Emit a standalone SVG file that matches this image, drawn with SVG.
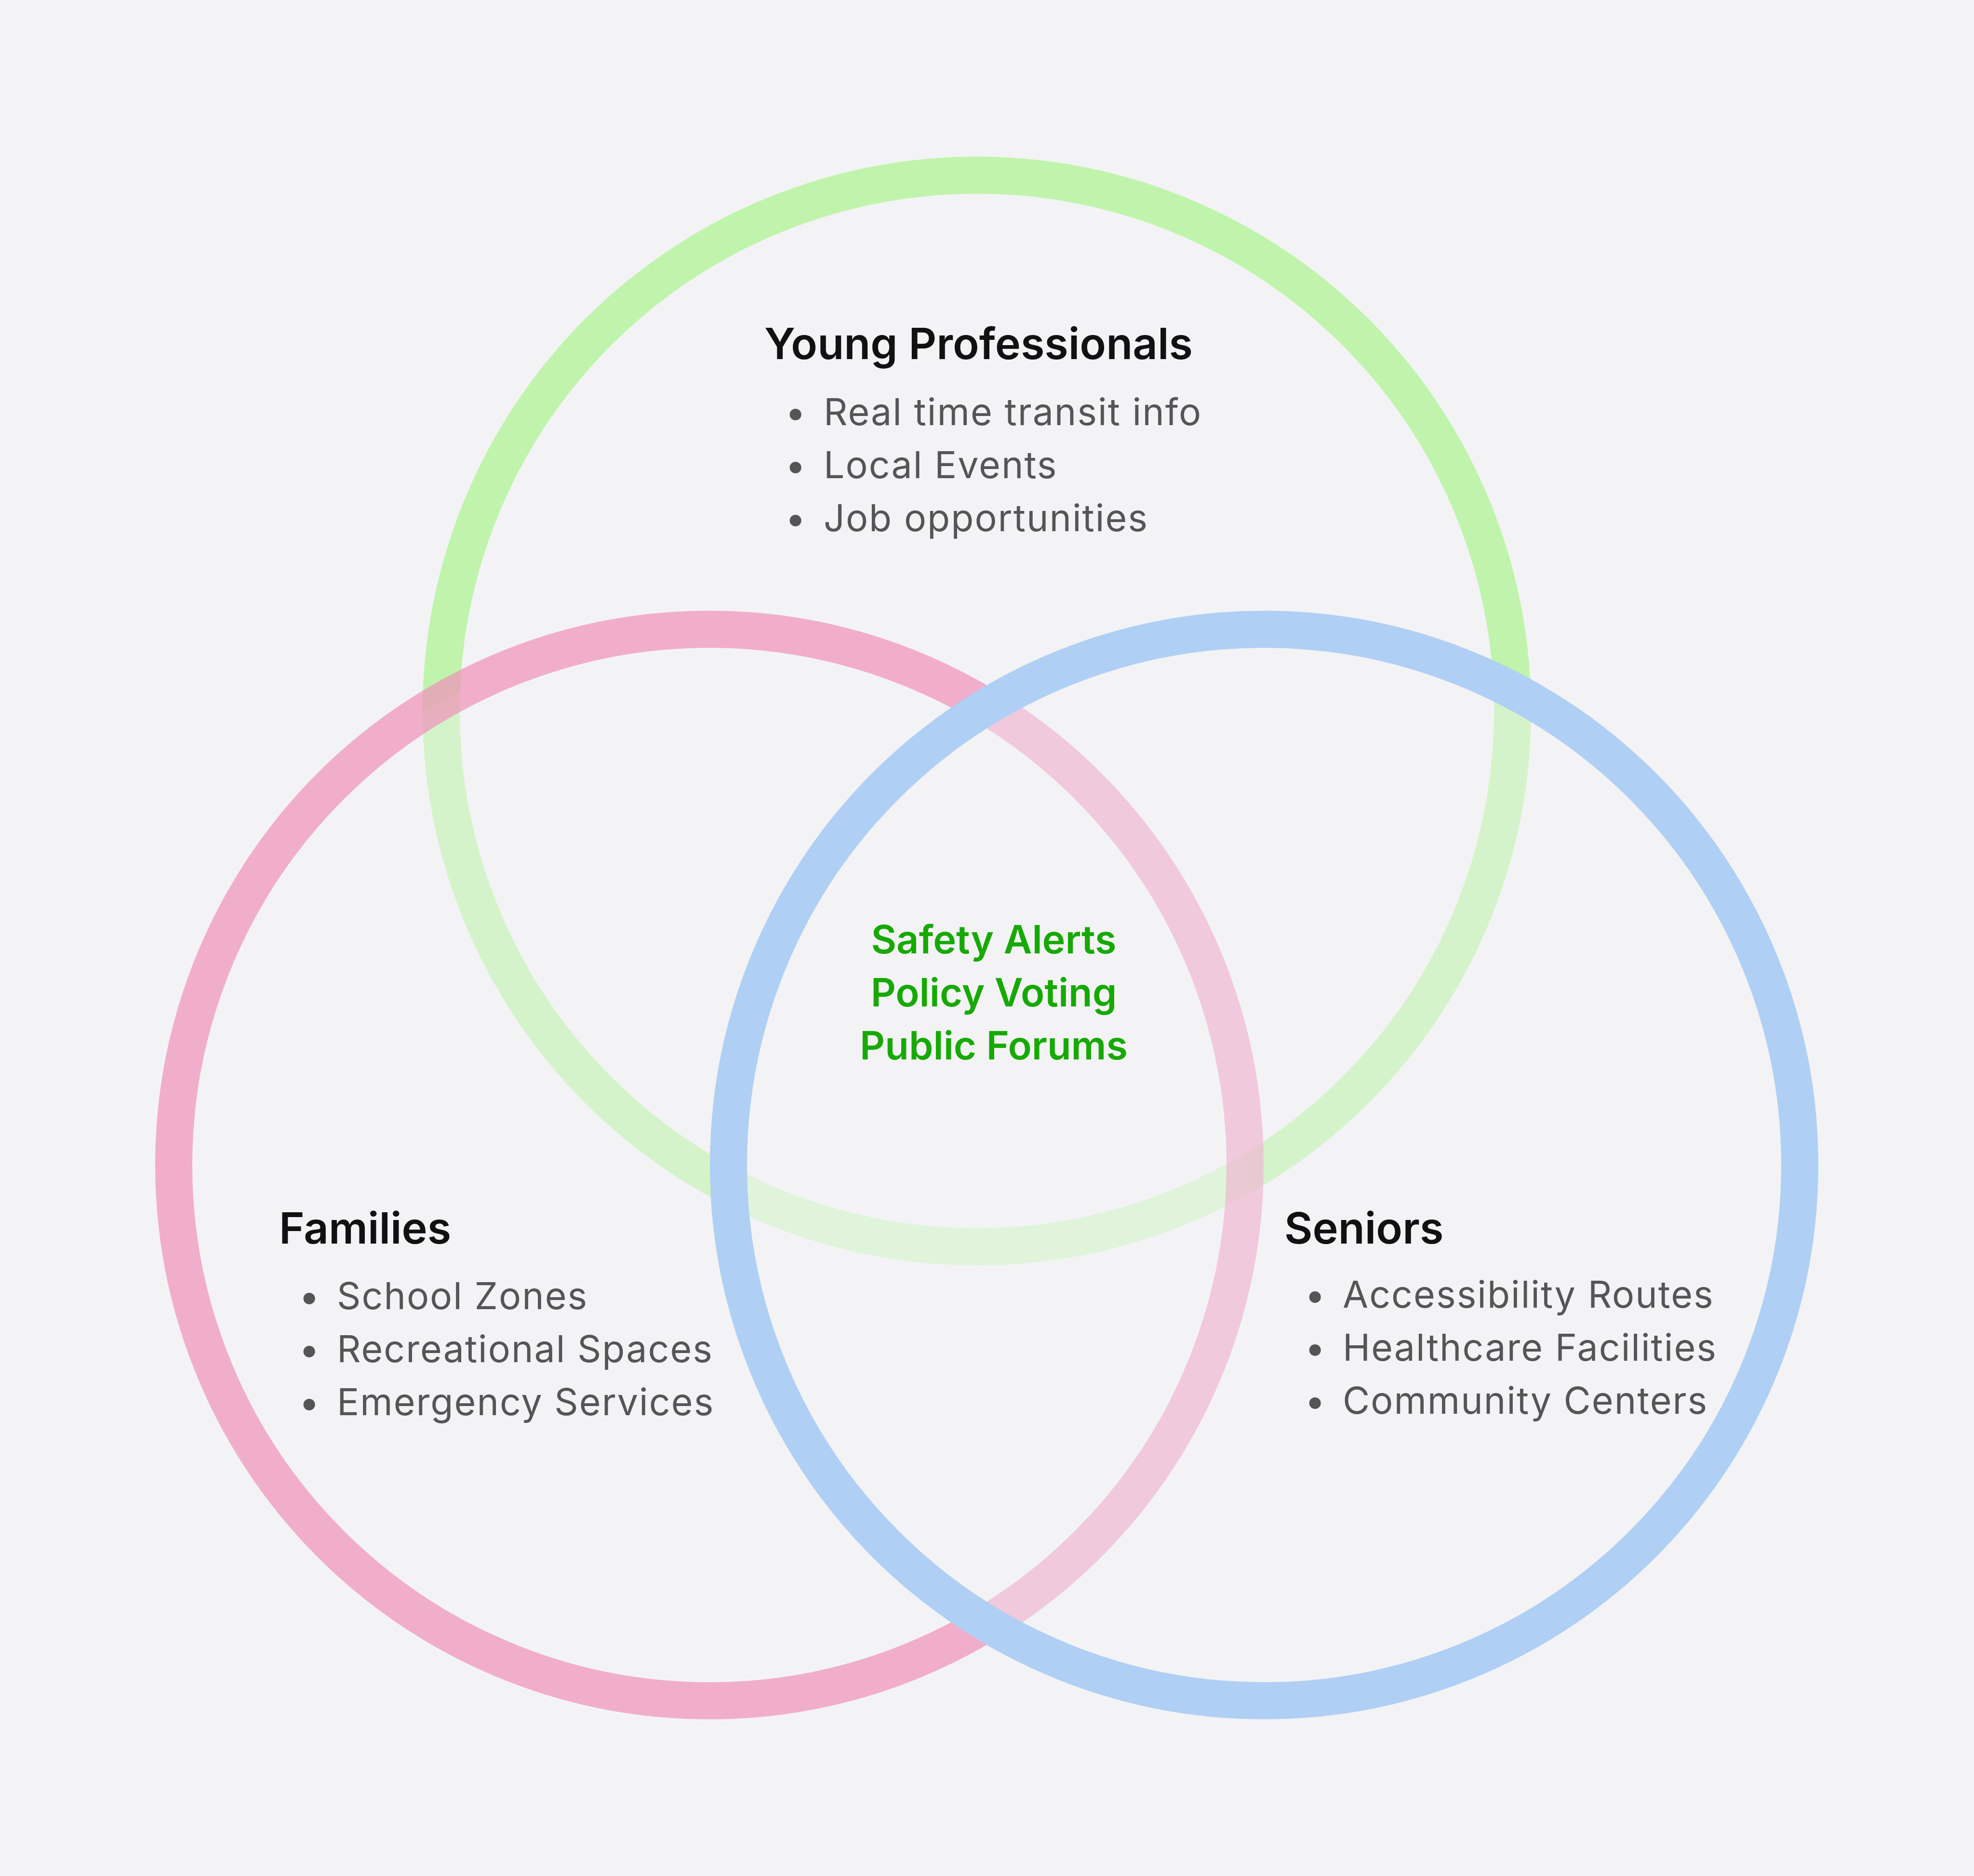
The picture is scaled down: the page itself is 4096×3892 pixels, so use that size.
<svg xmlns="http://www.w3.org/2000/svg" width="4096" height="3892" viewBox="0 0 4096 3892">
<style>
.ring{stroke-width:77}
.title{font-family:Inter,"Liberation Sans",sans-serif;font-weight:600;font-size:90px;fill:#111111}
.item{font-family:Inter,"Liberation Sans",sans-serif;font-weight:400;font-size:77px;letter-spacing:2px;fill:#555555}
.center{font-family:Inter,"Liberation Sans",sans-serif;font-weight:600;font-size:81px;fill:#17a902;text-anchor:middle}
</style>
<rect x="0" y="0" width="4096" height="3892" fill="#f3f3f5"/>
<g id="young-professionals">
<circle class="ring" cx="2027" cy="1475" r="1111.5" fill="none" stroke="#c0f4ad"/>
<text class="title" x="1586" y="745">Young Professionals</text>
<text class="item" x="1629" y="882">•</text><text class="item" x="1709" y="882">Real time transit info</text>
<text class="item" x="1629" y="992">•</text><text class="item" x="1709" y="992">Local Events</text>
<text class="item" x="1629" y="1102">•</text><text class="item" x="1709" y="1102">Job opportunities</text>
</g>
<g id="families">
<circle class="ring" cx="1472" cy="2417" r="1111.5" fill="#f3f2f5" fill-opacity="0.4" stroke="#f090b9" stroke-opacity="0.7"/>
<text class="title" x="579" y="2580">Families</text>
<text class="item" x="620" y="2716">•</text><text class="item" x="699" y="2716">School Zones</text>
<text class="item" x="620" y="2826">•</text><text class="item" x="699" y="2826">Recreational Spaces</text>
<text class="item" x="620" y="2936">•</text><text class="item" x="699" y="2936">Emergency Services</text>
</g>
<g id="seniors">
<circle class="ring" cx="2623" cy="2417" r="1111.5" fill="#f3f3f5" fill-opacity="0.4" stroke="#b0cff4"/>
<text class="title" x="2665" y="2580">Seniors</text>
<text class="item" x="2707" y="2713">•</text><text class="item" x="2786" y="2713">Accessibility Routes</text>
<text class="item" x="2707" y="2823">•</text><text class="item" x="2786" y="2823">Healthcare Facilities</text>
<text class="item" x="2707" y="2933">•</text><text class="item" x="2786" y="2933">Community Centers</text>
</g>
<g id="shared">
<text class="center" x="2062" y="1978">Safety Alerts</text>
<text class="center" x="2062" y="2088">Policy Voting</text>
<text class="center" x="2062" y="2198">Public Forums</text>
</g>
</svg>
